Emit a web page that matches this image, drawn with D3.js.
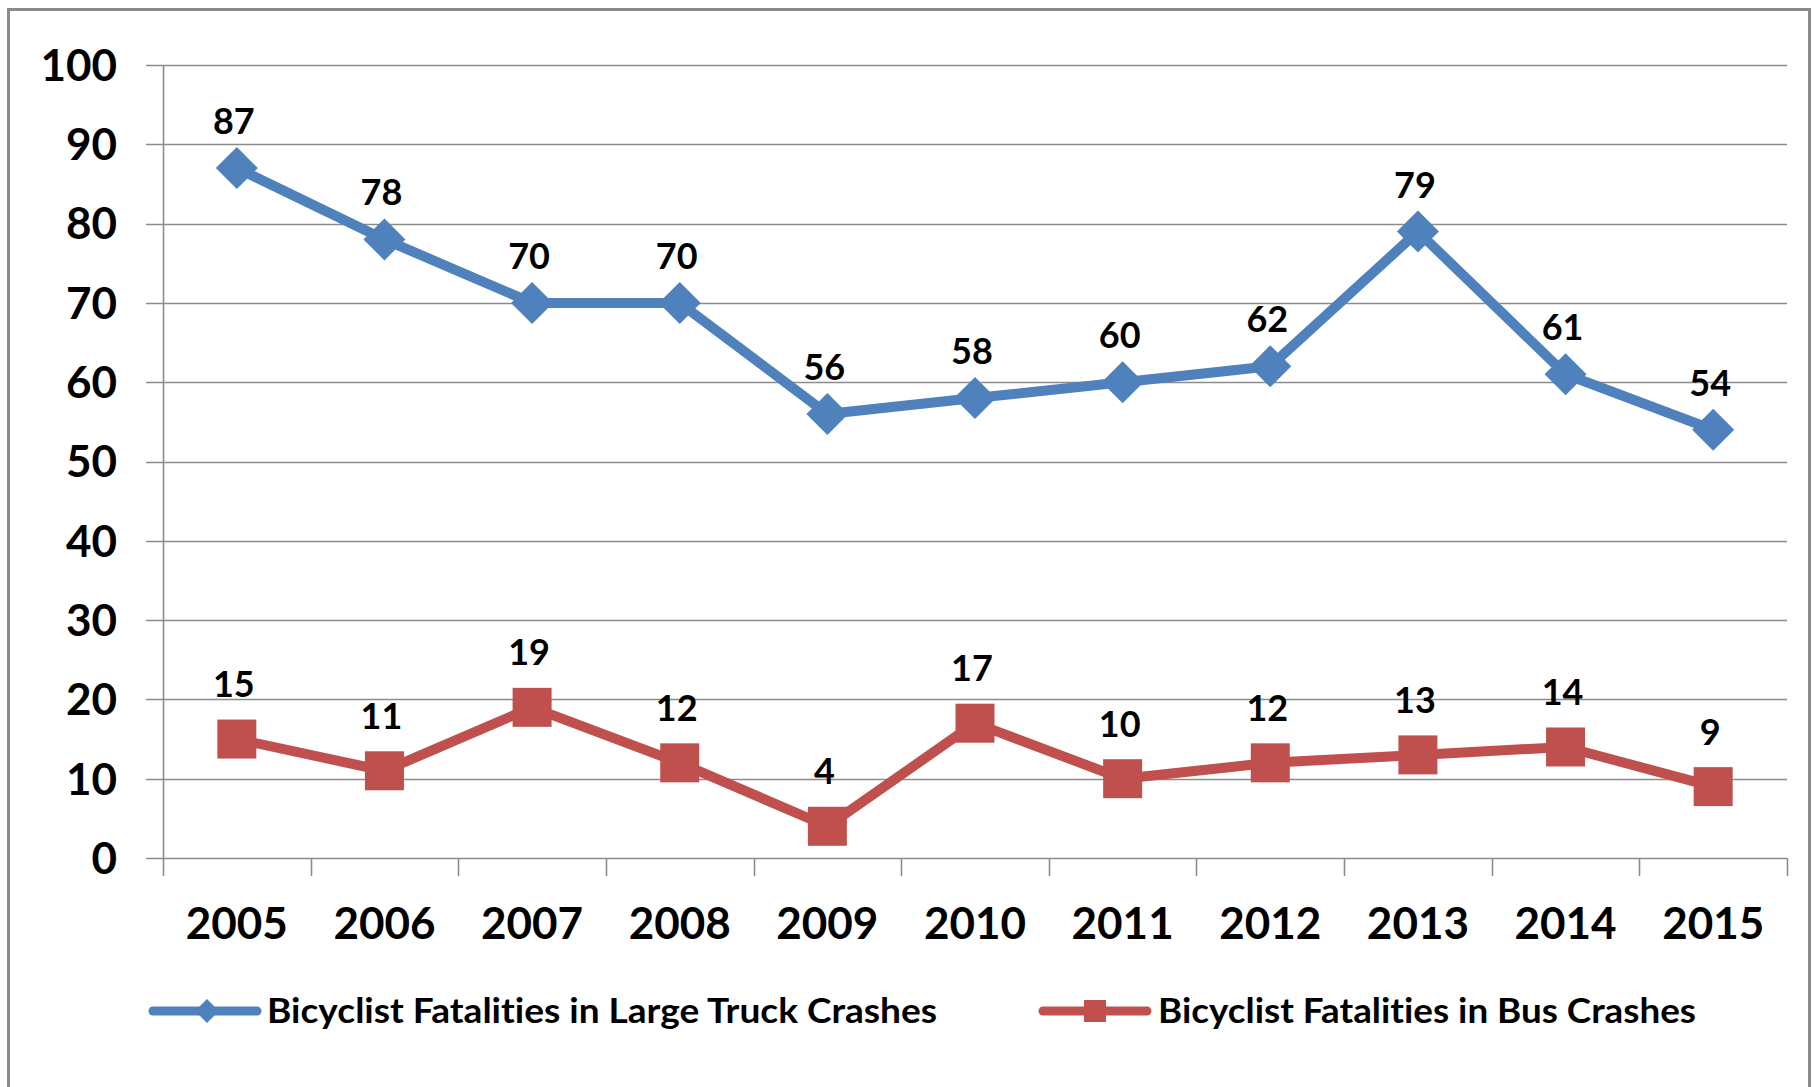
<!DOCTYPE html>
<html>
<head>
<meta charset="utf-8">
<script src="https://cdn.jsdelivr.net/npm/d3@7"></script>
<style>
  html, body { margin: 0; padding: 0; background: #fff; }
  svg { display: block; }
  text { font-family: Lato, "Open Sans", sans-serif; font-weight: bold; fill: #000; font-variant-ligatures: none; font-feature-settings: "liga" 0, "clig" 0; }
</style>
</head>
<body>
<svg id="chart" width="1815" height="1087"></svg>
<script>
const years = ["2005","2006","2007","2008","2009","2010","2011","2012","2013","2014","2015"];
const truckValues = [87, 78, 70, 70, 56, 58, 60, 62, 79, 61, 54];
const busValues = [15, 11, 19, 12, 4, 17, 10, 12, 13, 14, 9];
const yTicks = [0, 10, 20, 30, 40, 50, 60, 70, 80, 90, 100];
const seriesNames = ["Bicyclist Fatalities in Large Truck Crashes", "Bicyclist Fatalities in Bus Crashes"];

const blue = "#4F81BD", red = "#C0504D", grid = "#8c8c8c";
const svg = d3.select("#chart");

// outer border
svg.append("rect").attr("x", 8.5).attr("y", 9.5).attr("width", 1801).attr("height", 1100)
  .attr("fill", "#fff").attr("stroke", "#8a8a8a").attr("stroke-width", 3);

const x = d3.scaleBand().domain(years).range([163, 1787]).padding(0);
const y = d3.scaleLinear().domain([0, 100]).range([858, 65]);
const cx = d => x(d) + x.bandwidth() / 2;

// gridlines
svg.append("g").selectAll("line").data(yTicks).join("line")
  .attr("x1", 146).attr("x2", 1787)
  .attr("y1", d => Math.round(y(d)) + 0.5).attr("y2", d => Math.round(y(d)) + 0.5)
  .attr("stroke", grid).attr("stroke-width", 1.6);

// y axis line
svg.append("line").attr("x1", 163.5).attr("x2", 163.5).attr("y1", y(100)).attr("y2", 876)
  .attr("stroke", grid).attr("stroke-width", 1.6);

// x ticks at band boundaries
const bounds = years.map(d => x(d)).concat([x.range()[1]]);
svg.append("g").selectAll("line").data(bounds.slice(1)).join("line")
  .attr("x1", d => Math.round(d) + 0.5).attr("x2", d => Math.round(d) + 0.5)
  .attr("y1", y(0)).attr("y2", 876)
  .attr("stroke", grid).attr("stroke-width", 1.6);

// y labels
svg.append("g").selectAll("text").data(yTicks).join("text")
  .attr("x", 117).attr("y", d => y(d)).attr("dy", "0.36em")
  .attr("text-anchor", "end").attr("font-size", 44).text(d => d);

// x labels
svg.append("g").selectAll("text").data(years).join("text")
  .attr("x", d => cx(d)).attr("y", 939)
  .attr("text-anchor", "middle").attr("font-size", 44).text(d => d);

const line = d3.line().x((d, i) => cx(years[i])).y(d => y(d));

// truck series
svg.append("path").datum(truckValues).attr("d", line)
  .attr("fill", "none").attr("stroke", blue).attr("stroke-width", 10).attr("stroke-linejoin", "round");
const diamond = r => `M0,${-r}L${r},0L0,${r}L${-r},0Z`;
svg.append("g").selectAll("path").data(truckValues).join("path")
  .attr("transform", (d, i) => `translate(${cx(years[i])},${y(d)})`)
  .attr("d", diamond(21)).attr("fill", blue);

// bus series
svg.append("path").datum(busValues).attr("d", line)
  .attr("fill", "none").attr("stroke", red).attr("stroke-width", 10).attr("stroke-linejoin", "round");
svg.append("g").selectAll("rect").data(busValues).join("rect")
  .attr("x", (d, i) => cx(years[i]) - 19.5).attr("y", d => y(d) - 19.5)
  .attr("width", 39).attr("height", 39).attr("fill", red);

// data labels
svg.append("g").selectAll("text").data(truckValues).join("text")
  .attr("x", (d, i) => cx(years[i]) - 3).attr("y", d => y(d) - 34)
  .attr("text-anchor", "middle").attr("font-size", 36).text(d => d);
svg.append("g").selectAll("text").data(busValues).join("text")
  .attr("x", (d, i) => cx(years[i]) - 3).attr("y", d => y(d) - 42)
  .attr("text-anchor", "middle").attr("font-size", 36).text(d => d);

// legend
const leg = svg.append("g");
leg.append("line").attr("x1", 153).attr("x2", 257).attr("y1", 1011).attr("y2", 1011)
  .attr("stroke", blue).attr("stroke-width", 9).attr("stroke-linecap", "round");
leg.append("path").attr("transform", "translate(207,1011)").attr("d", diamond(12)).attr("fill", blue);
leg.append("text").attr("x", 267).attr("y", 1023).attr("font-size", 35)
  .attr("textLength", 670).attr("lengthAdjust", "spacingAndGlyphs").text(seriesNames[0]);

leg.append("line").attr("x1", 1043).attr("x2", 1147).attr("y1", 1011).attr("y2", 1011)
  .attr("stroke", red).attr("stroke-width", 9).attr("stroke-linecap", "round");
leg.append("rect").attr("x", 1084).attr("y", 1000).attr("width", 22).attr("height", 22).attr("fill", red);
leg.append("text").attr("x", 1158).attr("y", 1023).attr("font-size", 35)
  .attr("textLength", 538).attr("lengthAdjust", "spacingAndGlyphs").text(seriesNames[1]);
</script>
</body>
</html>
